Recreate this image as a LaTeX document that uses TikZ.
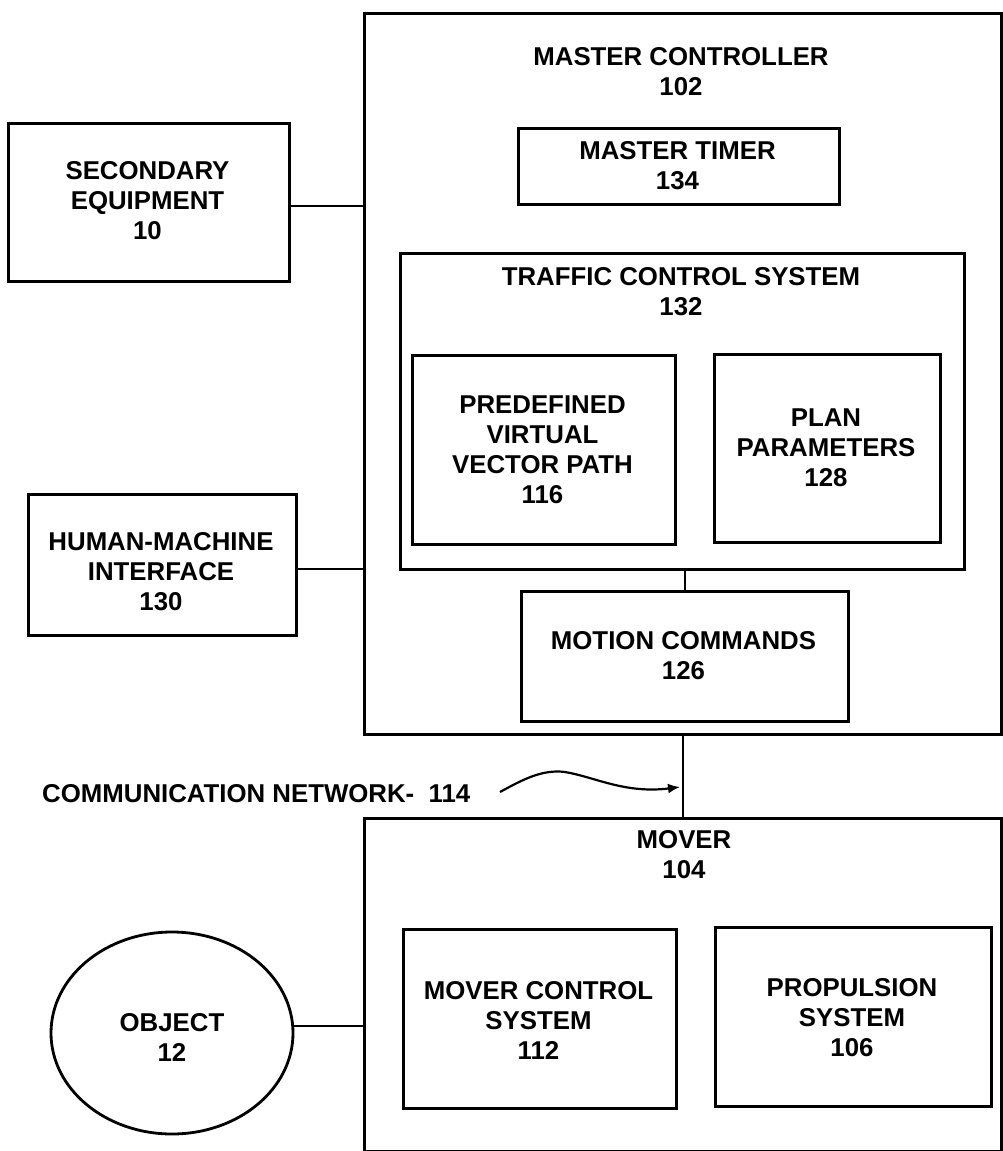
\documentclass[tikz,border=0pt]{standalone}
\usepackage{fontspec}
\setmainfont{Liberation Sans}
\usetikzlibrary{arrows.meta,calc,shapes.geometric}
\begin{document}
\begin{tikzpicture}[x=1pt,y=-1pt,
  box/.style={draw,line width=2.8pt,inner sep=0pt,anchor=north west},
  txt/.style={font=\fontsize{25.8}{30}\selectfont\bfseries,align=center,inner sep=0pt},
  link/.style={line width=2.3pt}]
\useasboundingbox (0,0) rectangle (1003,1151);
% master controller
\node[box,minimum width=637pt,minimum height=721pt] (mc) at (363,12) {};
\node[txt] (mct) at (681,72) {MASTER CONTROLLER\\102};
\node[box,minimum width=321pt,minimum height=76pt] (timer) at (517,127) {};
\node[txt] (timert) at (677.5,166) {MASTER TIMER\\134};
\node[box,minimum width=564pt,minimum height=316pt] (tcs) at (399,252) {};
\node[txt] (tcst) at (681,292) {TRAFFIC CONTROL SYSTEM\\132};
\node[box,minimum width=263pt,minimum height=189pt] (pre) at (411,354) {};
\node[txt] (pret) at (542.5,450) {PREDEFINED\\VIRTUAL\\VECTOR PATH\\116};
\node[box,minimum width=226pt,minimum height=188pt] (plan) at (713,353) {};
\node[txt] (plant) at (826,447.5) {PLAN\\PARAMETERS\\128};
\node[box,minimum width=327pt,minimum height=130pt] (motion) at (520,590) {};
\node[txt] (motiont) at (683.5,656) {MOTION COMMANDS\\126};
\draw[link] (tcs.south -| motion.north) -- (motion.north);
% left side
\node[box,minimum width=281pt,minimum height=158pt] (sec) at (7,122) {};
\node[txt] (sect) at (147.5,201) {SECONDARY\\EQUIPMENT\\10};
\draw[link] (sec.east |- 0,206) -- (mc.west |- 0,206);
\node[box,minimum width=268pt,minimum height=141pt] (hmi) at (27,493) {};
\node[txt] (hmit) at (161,572) {HUMAN-MACHINE\\INTERFACE\\130};
\draw[link] (hmi.east |- 0,569) -- (mc.west |- 0,569);
% mover
\node[box,minimum width=637pt,minimum height=333pt] (mover) at (363,817) {};
\node[txt] (movert) at (684,855) {MOVER\\104};
\node[box,minimum width=273pt,minimum height=179pt] (mcs) at (402,928) {};
\node[txt] (mcst) at (538.5,1020) {MOVER CONTROL\\SYSTEM\\112};
\node[box,minimum width=276pt,minimum height=179pt] (prop) at (714,926) {};
\node[txt] (propt) at (852,1018) {PROPULSION\\SYSTEM\\106};
\node[draw,ellipse,line width=2.8pt,minimum width=242pt,minimum height=202pt,inner sep=0pt] (obj) at (172,1033) {};
\node[txt] (objt) at (172,1037) {OBJECT\\12};
\draw[link] (obj.east |- 0,1026) -- (mover.west |- 0,1026);
% communication network
\draw[link] (mc.south -| 683,0) -- (mover.north -| 683,0);
\node[txt,anchor=base west] (comm) at (42,802) {COMMUNICATION NETWORK-\ \ 114};
\coordinate (cs) at (500,792);
\coordinate (ce) at (680,787);
\draw[line width=2.2pt,-{Latex[length=12pt,width=10pt]}] (cs) .. controls (522,780) and (542,769) .. (565,772) .. controls (595,777) and (625,794) .. (ce);
\end{tikzpicture}
\end{document}
